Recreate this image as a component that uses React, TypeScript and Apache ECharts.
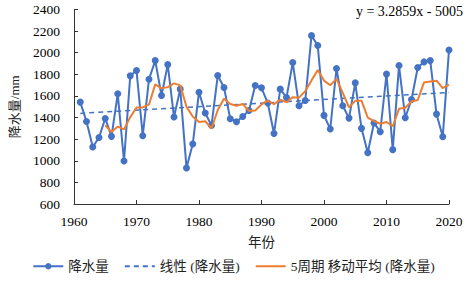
import React, { useEffect, useRef } from "react";
import * as echarts from "echarts";

const years: number[] = [
  1961, 1962, 1963, 1964, 1965, 1966, 1967, 1968, 1969, 1970,
  1971, 1972, 1973, 1974, 1975, 1976, 1977, 1978, 1979, 1980,
  1981, 1982, 1983, 1984, 1985, 1986, 1987, 1988, 1989, 1990,
  1991, 1992, 1993, 1994, 1995, 1996, 1997, 1998, 1999, 2000,
  2001, 2002, 2003, 2004, 2005, 2006, 2007, 2008, 2009, 2010,
  2011, 2012, 2013, 2014, 2015, 2016, 2017, 2018, 2019, 2020,
];

const precipitation: number[] = [
  1543, 1364, 1128, 1216, 1392, 1226, 1620, 998, 1786, 1835,
  1232, 1755, 1927, 1604, 1890, 1405, 1663, 934, 1155, 1635,
  1442, 1327, 1789, 1678, 1389, 1361, 1410, 1466, 1697, 1675,
  1534, 1253, 1663, 1586, 1909, 1509, 1558, 2158, 2066, 1420,
  1294, 1854, 1509, 1395, 1721, 1300, 1075, 1349, 1269, 1802,
  1103, 1881, 1398, 1567, 1863, 1915, 1927, 1432, 1223, 2026,
];

// Trend equation as printed on the chart
const trendSlope = 3.2859;
const trendIntercept = -5005;
const trendLabel = "y = 3.2859x - 5005";

const xTicks = { min: 1960, max: 2020, interval: 10 };
const yTicks = { min: 600, max: 2400, interval: 200 };

const seriesNames = ["降水量", "线性 (降水量)", "5周期 移动平均 (降水量)"];

const BLUE = "#4472C4";
const ORANGE = "#ED7D31";
const SERIF = "Liberation Serif";
const MIXED = "Liberation Serif, Noto Sans CJK SC";

const tickRich = {
  t: { fontFamily: SERIF, fontSize: 13.5, color: "#000" },
};

export default function App() {
  const ref = useRef<HTMLDivElement>(null);

  useEffect(() => {
    if (!ref.current) return;
    const chart = echarts.init(ref.current, undefined, { renderer: "svg" });

    const mainData = years.map((y, i) => [y, precipitation[i]]);
    const maData: number[][] = [];
    for (let i = 4; i < years.length; i++) {
      let s = 0;
      for (let j = i - 4; j <= i; j++) s += precipitation[j];
      maData.push([years[i], s / 5]);
    }
    const firstYear = years[0];
    const lastYear = years[years.length - 1];
    const trendData = [
      [firstYear, trendSlope * firstYear + trendIntercept],
      [lastYear, trendSlope * lastYear + trendIntercept],
    ];

    chart.setOption({
      animation: false,
      textStyle: { fontFamily: MIXED },
      grid: { left: 67, right: 18, top: 9.5, bottom: 79, containLabel: false },
      graphic: [
        {
          type: "text",
          right: 4,
          top: 4,
          style: {
            text: trendLabel,
            font: `14px ${SERIF}`,
            fill: "#000",
          },
        },
      ],
      legend: {
        bottom: 5,
        left: "center",
        itemWidth: 30,
        itemHeight: 8,
        itemGap: 15,
        textStyle: { fontFamily: MIXED, fontSize: 13.5, color: "#222" },
        data: [
          { name: seriesNames[0] },
          { name: seriesNames[1], itemStyle: { opacity: 0 } },
          { name: seriesNames[2], itemStyle: { opacity: 0 } },
        ],
      },
      xAxis: {
        type: "value",
        min: xTicks.min,
        max: xTicks.max,
        interval: xTicks.interval,
        name: "年份",
        nameLocation: "middle",
        nameGap: 32,
        nameTextStyle: { fontFamily: MIXED, fontSize: 13.5, color: "#222" },
        axisLine: { lineStyle: { color: "#333", width: 1 } },
        axisTick: { inside: true, length: 4, lineStyle: { color: "#333" } },
        axisLabel: {
          fontFamily: SERIF,
          fontSize: 13.5,
          color: "#000",
          margin: 10,
          formatter: (v: number) => `{t|${v}}`,
          rich: tickRich,
        },
        splitLine: { show: false },
      },
      yAxis: {
        type: "value",
        min: yTicks.min,
        max: yTicks.max,
        interval: yTicks.interval,
        name: "降水量/mm",
        nameLocation: "middle",
        nameGap: 53,
        nameTextStyle: { fontFamily: MIXED, fontSize: 13, color: "#222" },
        axisLine: { show: true, lineStyle: { color: "#333", width: 1 } },
        axisTick: { show: true, inside: true, length: 4, lineStyle: { color: "#333" } },
        axisLabel: {
          fontFamily: SERIF,
          fontSize: 13.5,
          color: "#000",
          margin: 14,
          formatter: (v: number) => `{t|${v}}`,
          rich: tickRich,
        },
        splitLine: { show: false },
      },
      series: [
        {
          name: seriesNames[0],
          type: "line",
          data: mainData,
          symbol: "circle",
          symbolSize: 7,
          lineStyle: { color: BLUE, width: 2 },
          itemStyle: { color: BLUE },
          z: 3,
        },
        {
          name: seriesNames[1],
          type: "line",
          data: trendData,
          symbol: "none",
          lineStyle: { color: BLUE, width: 1.5, type: [5, 4] },
          itemStyle: { color: BLUE },
          z: 2,
        },
        {
          name: seriesNames[2],
          type: "line",
          data: maData,
          symbol: "none",
          lineStyle: { color: ORANGE, width: 2 },
          itemStyle: { color: ORANGE },
          z: 4,
        },
      ],
    });

    return () => chart.dispose();
  }, []);

  return <div ref={ref} style={{ width: 467, height: 283, position: "absolute", left: 0, top: 0 }} />;
}
